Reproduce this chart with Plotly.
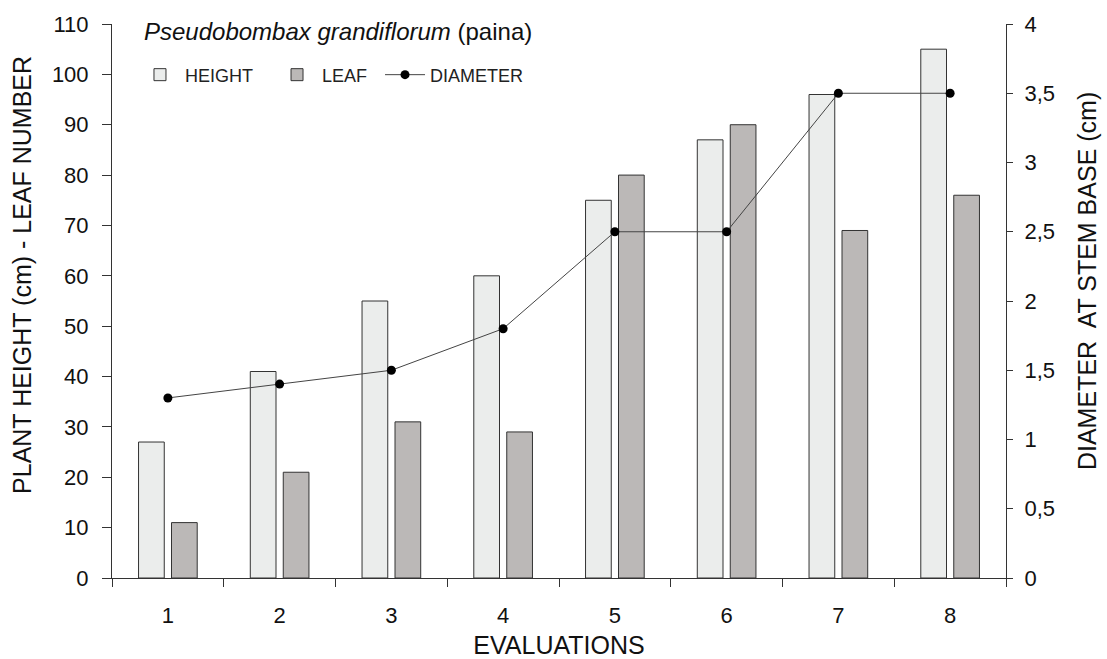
import plotly.graph_objects as go

evaluations = ["1", "2", "3", "4", "5", "6", "7", "8"]
height_cm = [27, 41, 55, 60, 75, 87, 96, 105]
leaf_number = [11, 21, 31, 29, 80, 90, 69, 76]
diameter_cm = [1.3, 1.4, 1.5, 1.8, 2.5, 2.5, 3.5, 3.5]

FONT = "Liberation Sans, Arial, sans-serif"
AX = "#333333"
TXT = "#111111"

fig = go.Figure()
fig.add_trace(go.Bar(
    x=evaluations, y=height_cm, name="HEIGHT", legend="legend",
    marker=dict(color="#ebedec", line=dict(color=AX, width=1)),
))
fig.add_trace(go.Bar(
    x=evaluations, y=leaf_number, name="LEAF", legend="legend2",
    marker=dict(color="#bbb8b7", line=dict(color=AX, width=1)),
))
fig.add_trace(go.Scatter(
    x=evaluations, y=diameter_cm, name="DIAMETER", yaxis="y2", legend="legend3",
    mode="lines+markers",
    line=dict(color="#444444", width=1),
    marker=dict(color="black", size=9),
))

leg_common = dict(orientation="h", yanchor="middle", y=0.908, xanchor="left",
                  font=dict(size=18, color="#222222"), bgcolor="rgba(0,0,0,0)",
                  itemwidth=40)

fig.update_layout(
    width=1107, height=659,
    margin=dict(l=112, r=101, t=24, b=81),
    paper_bgcolor="white", plot_bgcolor="white",
    font=dict(family=FONT, size=22, color=TXT),
    separators=",.",
    barmode="group", bargap=0.41, bargroupgap=0.22,
    showlegend=True,
    legend=dict(leg_common, x=0.0257),
    legend2=dict(leg_common, x=0.179),
    legend3=dict(leg_common, x=0.2998),
    xaxis=dict(
        type="category", range=[-0.5, 7.5], tickson="boundaries", automargin=False,
        ticks="outside", ticklen=8, tickcolor=AX, showline=True, linecolor=AX, linewidth=1,
        showgrid=False, zeroline=False, ticklabelstandoff=18,
        title=dict(text="EVALUATIONS", font=dict(size=25), standoff=10),
        tickfont=dict(size=22),
    ),
    yaxis=dict(
        range=[0, 110], dtick=10, ticks="outside", ticklen=9, tickcolor=AX, automargin=False,
        showline=True, linecolor=AX, linewidth=1, showgrid=False, zeroline=False,
        ticklabelstandoff=9, tickfont=dict(size=22),
    ),
    yaxis2=dict(
        overlaying="y", side="right", range=[0, 4], dtick=0.5, automargin=False,
        ticks="outside", ticklen=6, tickcolor=AX, showline=True, linecolor=AX, linewidth=1,
        showgrid=False, zeroline=False, ticklabelstandoff=7, tickfont=dict(size=22),
    ),
    annotations=[
        dict(text="<i>Pseudobombax grandiflorum</i> (paina)",
             xref="paper", yref="paper", x=0.0335, y=0.987, xanchor="left", yanchor="middle",
             showarrow=False, font=dict(size=24, color=TXT)),
        dict(text="PLANT HEIGHT (cm) - LEAF NUMBER", textangle=-90,
             xref="paper", yref="paper", x=-0.1007, y=0.547, xanchor="center", yanchor="middle",
             showarrow=False, font=dict(size=25, color=TXT)),
        dict(text="DIAMETER&nbsp; AT STEM BASE (cm)", textangle=-90,
             xref="paper", yref="paper", x=1.0906, y=0.536, xanchor="center", yanchor="middle",
             showarrow=False, font=dict(size=25, color=TXT)),
    ],
)

fig.write_html("out.html", config={"displayModeBar": False},
               post_script="document.body.style.margin='0';")
